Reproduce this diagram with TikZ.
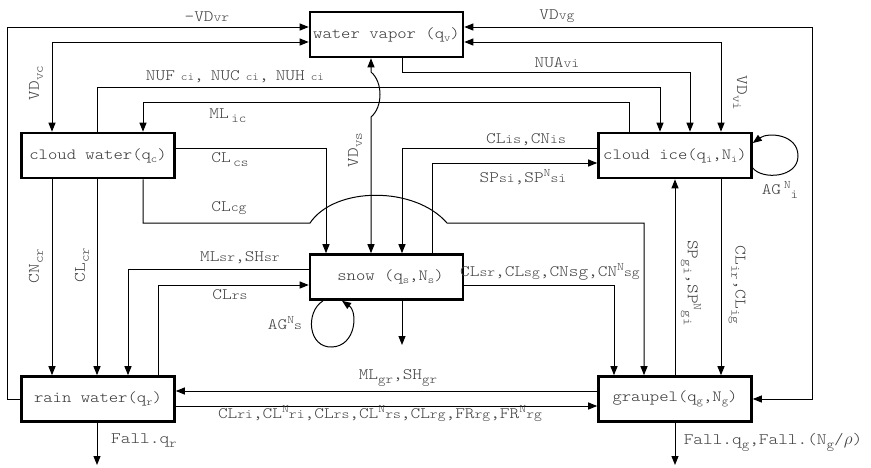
\documentclass[tikz,border=0pt]{standalone}
\usepackage{fontspec}
\setmainfont{lmmonolt10-regular.otf}[FakeStretch=1.15]
\usetikzlibrary{arrows.meta}
\newcommand{\bsm}[1]{{\fontsize{13}{13}\selectfont #1}}
\newcommand{\tsm}[1]{{\fontsize{11}{11}\selectfont #1}}
\newcommand{\lsb}[1]{\raisebox{-4pt}{\fontsize{12.5}{12.5}\selectfont #1}}
\newcommand{\usp}[1]{\raisebox{6pt}{\fontsize{11.5}{11.5}\selectfont #1}}
\newcommand{\qsb}[1]{\raisebox{-3pt}{\fontsize{10.5}{10.5}\selectfont #1}}
\begin{document}
\begin{tikzpicture}[x=1pt,y=-1pt,
 box/.style={draw, line width=2.6pt, minimum width=153pt, minimum height=45pt, inner sep=0pt, font=\fontsize{15.5}{15.5}\selectfont, text=black!80},
 lab/.style={font=\fontsize{16}{16}\selectfont, text=black!75, inner sep=0pt},
 con/.style={line width=1pt},
 arr/.style={con, -{Triangle[length=9pt,width=7pt]}},
 darr/.style={con, {Triangle[length=9pt,width=7pt]}-{Triangle[length=9pt,width=7pt]}},
]
\useasboundingbox (0,0) rectangle (871,467);

\node[box] (wv) at (386.5,34.5) {water vapor (q\qsb{v})};
\node[box] (cw) at (98,155.5) {cloud water(q\qsb{c})};
\node[box] (ci) at (675,155.5) {cloud ice(q\qsb{i},N\qsb{i})};
\node[box] (sn) at (386.5,277) {\hspace{8pt}snow (q\qsb{s},N\qsb{s})};
\node[box] (rw) at (98,399) {rain water(q\qsb{r})};
\node[box] (gr) at (675,399) {graupel(q\qsb{g},N\qsb{g})};

\draw[arr] (rw.west) -- (7,399) |- (wv.west|-0,27);
\draw[darr] (wv.west|-0,42) -| (cw.north-|52,0);
\draw[arr] (cw.north-|97,0) |- (660,87) -- (ci.north-|660,0);
\draw[arr] (ci.north-|629,0) |- (143,102) -- (cw.north-|143,0);
\draw[arr] (wv.south-|402,0) |- (690,72) -- (ci.north-|690,0);
\draw[darr] (wv.east|-0,27) -| (812,399) -- (gr.east|-0,399);
\draw[darr] (wv.east|-0,42) -| (ci.north-|721,0);
\draw[darr] (sn.north-|371,0) -- (371,117) .. controls (383,107) and (383,82) .. (371,72) -- (wv.south-|371,0);
\draw[arr] (cw.east|-0,148) -| (sn.north-|326,0);
\draw[arr] (cw.south-|143,0) |- (310,223) .. controls (335,186) and (415,186) .. (447,223) -| (gr.north-|644,0);
\draw[arr] (ci.west|-0,148) -| (sn.north-|402,0);
\draw[arr] (sn.north-|432,0) |- (ci.west|-0,163);
\draw[arr] (cw.south-|52,0) -- (rw.north-|52,0);
\draw[arr] (cw.south-|97,0) -- (rw.north-|97,0);
\draw[arr] (sn.west|-0,269) -| (rw.north-|128,0);
\draw[arr] (rw.north-|158,0) |- (sn.west|-0,285);
\draw[arr] (sn.south-|323,0) .. controls (305,312) and (308,348) .. (332,347) .. controls (356,346) and (358,312) .. (sn.south-|342,0);
\coordinate (snd) at (402,345);
\draw[arr] (sn.south-|402,0) -- (snd);
\draw[arr] (sn.east|-0,285) -| (gr.north-|614,0);
\draw[arr] (gr.north-|675,0) -- (ci.south-|675,0);
\draw[arr] (ci.south-|721,0) -- (gr.north-|721,0);
\draw[arr] (ci.east|-0,168) .. controls (762,180) and (798,178) .. (798,156) .. controls (798,134) and (768,132) .. (ci.east|-0,143);
\draw[arr] (gr.west|-0,391) -- (rw.east|-0,391);
\draw[arr] (rw.east|-0,406) -- (gr.west|-0,406);
\coordinate (rwd) at (97,465);
\draw[arr] (rw.south-|97,0) -- (rwd);
\coordinate (grd) at (675,465);
\draw[arr] (gr.south-|675,0) -- (grd);

\node[lab] (lvr) at (207,17) {-VD\bsm{vr}};
\node[lab] (lvg) at (557,16) {VD\bsm{vg}};
\node[lab] (lnua) at (557,63) {NUA\bsm{vi}};
\node[lab] (lnuf) at (235,77) {NUF\kern6pt\tsm{ci},\kern7pt NUC\kern6pt\tsm{ci},\kern7pt NUH\kern6pt\tsm{ci}};
\node[lab] (lml) at (228,116) {ML\,\lsb{ic}};
\node[lab,rotate=90] (lvc) at (36,83) {VD\lsb{vc}};
\node[lab,rotate=-90] (lvi) at (740,93) {VD\lsb{vi}};
\node[lab,rotate=90] (lvs) at (355,150) {VD\lsb{vs}};
\node[lab] (lcs) at (230,160) {CL\,\lsb{cs}};
\node[lab] (lcg) at (229,208) {CL\bsm{cg}};
\node[lab] (lis) at (526,140) {CL\bsm{is},CN\bsm{is}};
\node[lab] (lsi) at (523,177) {SP\bsm{si},SP\usp{N}\bsm{si}};
\node[lab,rotate=90] (lcn) at (36,266) {CN\lsb{cr}};
\node[lab,rotate=90] (lcl) at (82,265) {CL\lsb{cr}};
\node[lab] (lmlsr) at (240,258) {ML\bsm{sr},SH\bsm{sr}};
\node[lab] (lrs) at (230,295) {CL\bsm{rs}};
\node[lab] (lags) at (285,323) {AG\usp{N}\bsm{s}};
\node[lab] (lsg) at (550,272) {CL\bsm{sr},CL\bsm{sg},CNsg,CN\usp{N}\bsm{sg}};
\node[lab,rotate=-90] (lgi) at (691,283) {SP\lsb{gi},SP\usp{N}\lsb{gi}};
\node[lab,rotate=-90] (lir) at (737,285) {CL\lsb{ir},CL\lsb{ig}};
\node[lab] (lagi) at (780,190) {AG\,\usp{N}\lsb{i}};
\node[lab] (lmgr) at (398,378) {ML\lsb{gr},SH\lsb{gr}};
\node[lab] (lri) at (380,414) {CL\bsm{ri},CL\usp{N}\bsm{ri},CL\bsm{rs},CL\usp{N}\bsm{rs},CL\bsm{rg},FR\bsm{rg},FR\usp{N}\bsm{rg}};
\node[lab] (lfr) at (144,441) {Fall.q\lsb{r}};
\node[lab] (lfg) at (773,442) {Fall.q\lsb{g},Fall.(N\lsb{g}/$\rho$)};
\end{tikzpicture}
\end{document}
